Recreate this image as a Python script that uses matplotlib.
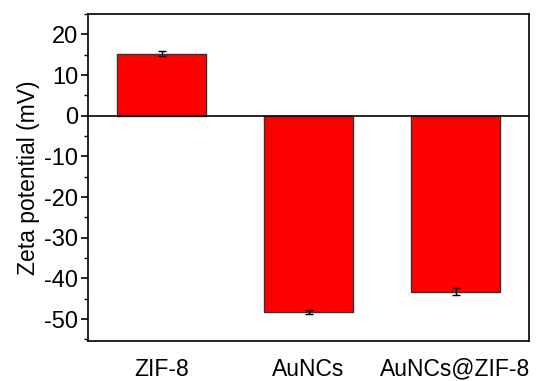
import matplotlib
matplotlib.use("Agg")
import matplotlib.pyplot as plt
from matplotlib.ticker import MultipleLocator

samples = ["ZIF-8", "AuNCs", "AuNCs@ZIF-8"]
zeta = [15.2, -48.3, -43.3]
zeta_err = [0.6, 0.4, 0.9]

plt.rcParams["font.family"] = ["Liberation Sans", "DejaVu Sans"]
plt.rcParams["axes.unicode_minus"] = False

fig = plt.figure(figsize=(5.37, 3.81), dpi=100)
ax = fig.add_axes((88 / 537, 40 / 381, 441 / 537, 327 / 381))

x = range(len(samples))
ax.bar(x, zeta, width=0.6, color="#ff0000", edgecolor="#333333", linewidth=1.0,
       yerr=zeta_err, capsize=3, error_kw={"elinewidth": 1.0, "capthick": 1.0, "ecolor": "black"})
ax.axhline(0, color="black", linewidth=1.2, zorder=3)

ax.set_xlim(-0.5, 2.5)
ax.set_ylim(-55.4, 25)
ax.set_xticks(list(x))
ax.set_xticklabels(samples, fontsize=16.5)
ax.tick_params(axis="x", length=0, pad=12)
ax.yaxis.set_major_locator(MultipleLocator(10))
ax.yaxis.set_minor_locator(MultipleLocator(5))
ax.tick_params(axis="y", which="major", direction="out", length=5, width=1.2, labelsize=17, pad=2)
ax.tick_params(axis="y", which="minor", direction="out", length=3, width=1.0)
ax.set_ylabel("Zeta potential (mV)", fontsize=16.5, labelpad=3)
for s in ax.spines.values():
    s.set_linewidth(1.2)

fig.savefig("out.png", dpi=100)
